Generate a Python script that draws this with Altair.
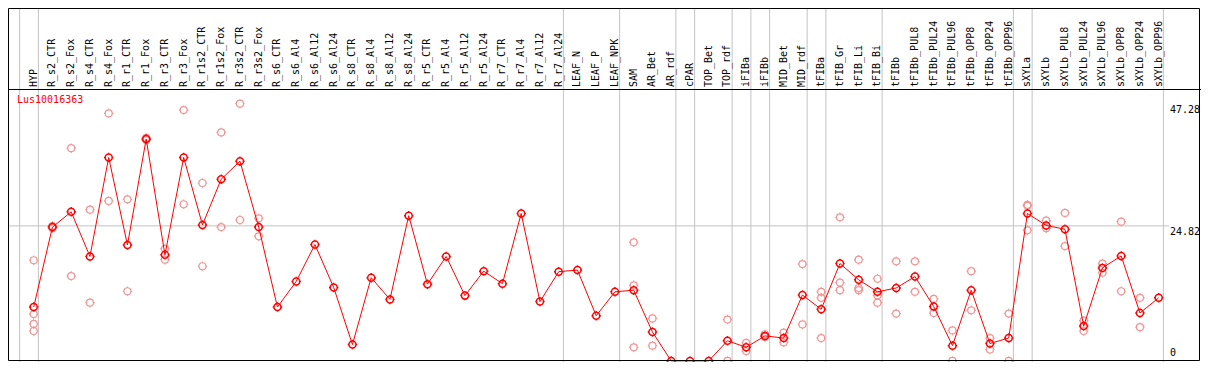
import altair as alt
import pandas as pd

gene = "Lus10016363"

categories = [
    "HYP", "R_s2_CTR", "R_s2_Fox", "R_s4_CTR", "R_s4_Fox", "R_r1_CTR", "R_r1_Fox",
    "R_r3_CTR", "R_r3_Fox", "R_r1s2_CTR", "R_r1s2_Fox", "R_r3s2_CTR", "R_r3s2_Fox",
    "R_s6_CTR", "R_s6_Al4", "R_s6_Al12", "R_s6_Al24", "R_s8_CTR", "R_s8_Al4",
    "R_s8_Al12", "R_s8_Al24", "R_r5_CTR", "R_r5_Al4", "R_r5_Al12", "R_r5_Al24",
    "R_r7_CTR", "R_r7_Al4", "R_r7_Al12", "R_r7_Al24", "LEAF_N", "LEAF_P", "LEAF_NPK",
    "SAM", "AR_Bet", "AR_rdf", "cPAR", "TOP_Bet", "TOP_rdf", "iFIBa", "iFIBb",
    "MID_Bet", "MID_rdf", "tFIBa", "tFIB_Gr", "tFIB_Li", "tFIB_Bi", "tFIBb",
    "tFIBb_PUL8", "tFIBb_PUL24", "tFIBb_PUL96", "tFIBb_OPP8", "tFIBb_OPP24",
    "tFIBb_OPP96", "sXYLa", "sXYLb", "sXYLb_PUL8", "sXYLb_PUL24", "sXYLb_PUL96",
    "sXYLb_OPP8", "sXYLb_OPP24", "sXYLb_OPP96",
]

means = [
    9.9, 24.6, 27.4, 19.2, 37.4, 21.3, 40.8, 19.5, 37.4, 25.0,
    33.4, 36.7, 24.6, 9.9, 14.6, 21.4, 13.5, 3.0, 15.3, 11.3,
    26.7, 14.1, 19.2, 12.0, 16.5, 14.2, 27.1, 10.9, 16.4, 16.7,
    8.3, 12.7, 13.0, 5.3, 0.0, 0.0, 0.0, 3.7, 2.5, 4.6,
    4.2, 12.1, 9.5, 17.9, 14.9, 12.7, 13.4, 15.5, 10.0, 2.8,
    13.0, 3.2, 4.2, 27.1, 24.9, 24.2, 6.4, 17.1, 19.3, 8.8, 11.6,
]

replicates = [
    [18.5, 8.6, 6.8, 5.5],   # HYP
    [24.8, 24.4],            # R_s2_CTR
    [39.1, 15.6],            # R_s2_Fox
    [27.8, 10.7],            # R_s4_CTR
    [45.5, 29.4],            # R_s4_Fox
    [29.7, 12.8],            # R_r1_CTR
    [41.0, 40.6],            # R_r1_Fox
    [20.6, 18.6],            # R_r3_CTR
    [46.1, 28.8],            # R_r3_Fox
    [32.7, 17.4],            # R_r1s2_CTR
    [42.0, 24.6],            # R_r1s2_Fox
    [47.28, 25.9],           # R_r3s2_CTR
    [26.2, 22.9],            # R_r3s2_Fox
    [], [], [], [], [], [], [], [], [], [], [], [], [], [], [], [],  # R_s6_CTR .. R_r7_Al24
    [], [], [],              # LEAF_N, LEAF_P, LEAF_NPK
    [21.8, 13.9, 2.5],       # SAM
    [7.8, 2.8],              # AR_Bet
    [], [], [],              # AR_rdf, cPAR, TOP_Bet
    [7.6, 0.0],              # TOP_rdf
    [3.3, 1.8],              # iFIBa
    [4.9, 4.4],              # iFIBb
    [5.2, 3.4],              # MID_Bet
    [17.8, 6.7],             # MID_rdf
    [12.7, 11.6, 4.2],       # tFIBa
    [26.4, 14.4, 13.0],      # tFIB_Gr
    [18.6, 13.4, 13.0],      # tFIB_Li
    [15.1, 12.0, 10.7],      # tFIB_Bi
    [18.3, 8.7],             # tFIBb
    [18.3, 12.7],            # tFIBb_PUL8
    [11.4, 8.8],             # tFIBb_PUL24
    [5.6, 0.0],              # tFIBb_PUL96
    [16.5, 9.3],             # tFIBb_OPP8
    [4.2, 2.1],              # tFIBb_OPP24
    [8.7, 0.0],              # tFIBb_OPP96
    [28.7, 28.5, 24.0],      # sXYLa
    [25.8, 24.4],            # sXYLb
    [27.2, 21.1],            # sXYLb_PUL8
    [7.4, 5.5],              # sXYLb_PUL24
    [17.9, 16.2],            # sXYLb_PUL96
    [25.6, 12.8],            # sXYLb_OPP8
    [11.6, 6.2],             # sXYLb_OPP24
    [],                      # sXYLb_OPP96
]

# group separators: drawn just after these category numbers (0 = before first)
group_ends = [0, 1, 29, 32, 35, 36, 38, 39, 40, 42, 43, 46, 53, 54, 61]

y_top_labels = [47.28, 24.82]
y_bottom_labels = [0]
grid_values = [24.82]

# ---------------------------------------------------------------- tables
idx = list(range(1, len(categories) + 1))
mean_df = pd.DataFrame({"idx": idx, "cat": categories, "value": means})
rep_df = pd.DataFrame(
    [{"idx": i + 1, "value": v} for i, vals in enumerate(replicates) for v in vals]
)
bound_df = pd.DataFrame({"pos": [g + 0.25 for g in group_ends]})
ytop_df = pd.DataFrame({"v": y_top_labels, "t": [f"{v:.2f}" for v in y_top_labels]})
ybot_df = pd.DataFrame({"v": y_bottom_labels, "t": ["0" for _ in y_bottom_labels]})
grid_df = pd.DataFrame({"v": grid_values})

W, H = 1193, 354
HEADER = 81
FONT = "DejaVu Sans Mono"

xs = alt.Scale(domain=[1, len(categories)], range=[25.7, 1150.7], nice=False, zero=False)
ys = alt.Scale(domain=[0, 47.28], range=[352.9, 95.7], nice=False, zero=False)

marker = ("M-1,0A1,1,0,1,0,1,0A1,1,0,1,0,-1,0"
          "M0,-1L0,-1.35M0,1L0,1.35M-1,0L-1.35,0M1,0L1.35,0")

vrules = alt.Chart(bound_df).mark_rule(color="#c3c3c3", strokeWidth=1).encode(
    x=alt.X("pos:Q", scale=xs, axis=None),
    y=alt.value(0),
    y2=alt.value(H),
)

hgrid = alt.Chart(grid_df).mark_rule(color="#c3c3c3", strokeWidth=1).encode(
    y=alt.Y("v:Q", scale=ys, axis=None),
    x=alt.value(0),
    x2=alt.value(1161),
)

reps = alt.Chart(rep_df).mark_point(
    shape=marker, size=49, filled=False, stroke="#f09494", strokeWidth=1.2, opacity=1
).encode(
    x=alt.X("idx:Q", scale=xs, axis=None),
    y=alt.Y("value:Q", scale=ys, axis=None),
)

line = alt.Chart(mean_df).mark_line(color="#ff0000", strokeWidth=1).encode(
    x=alt.X("idx:Q", scale=xs, axis=None),
    y=alt.Y("value:Q", scale=ys, axis=None),
)

pts = alt.Chart(mean_df).mark_point(
    shape=marker, size=49, filled=False, stroke="#ff0000", strokeWidth=1.5, opacity=1
).encode(
    x=alt.X("idx:Q", scale=xs, axis=None),
    y=alt.Y("value:Q", scale=ys, axis=None),
)

cat_labels = alt.Chart(mean_df).mark_text(
    angle=270, align="left", baseline="middle", font=FONT, fontSize=10, color="black"
).encode(
    x=alt.X("idx:Q", scale=xs, axis=None),
    y=alt.value(HEADER - 2),
    text="cat:N",
)

ytop = alt.Chart(ytop_df).mark_text(
    align="left", baseline="top", font=FONT, fontSize=10, color="black", dy=1
).encode(
    y=alt.Y("v:Q", scale=ys, axis=None),
    x=alt.value(1162),
    text="t:N",
)

ybot = alt.Chart(ybot_df).mark_text(
    align="left", baseline="bottom", font=FONT, fontSize=10, color="black", dy=-3
).encode(
    y=alt.Y("v:Q", scale=ys, axis=None),
    x=alt.value(1162),
    text="t:N",
)

title = alt.Chart(pd.DataFrame({"t": [gene]})).mark_text(
    align="left", baseline="middle", font=FONT, fontSize=10, color="#ff0000"
).encode(
    x=alt.value(9),
    y=alt.value(92),
    text="t:N",
)

sep = alt.Chart(pd.DataFrame({"a": [0]})).mark_rule(color="black", strokeWidth=1).encode(
    y=alt.value(HEADER + 0.5),
    x=alt.value(0),
    x2=alt.value(W),
)

frame = alt.Chart(pd.DataFrame({"a": [0]})).mark_rect(
    fillOpacity=0, stroke="black", strokeWidth=1
).encode(
    x=alt.value(0.5),
    x2=alt.value(1191.5),
    y=alt.value(0.5),
    y2=alt.value(H - 1.5),
)

chart = alt.layer(
    vrules, hgrid, reps, line, pts, cat_labels, ytop, ybot, title, sep, frame
).properties(
    width=W, height=H, autosize=alt.AutoSizeParams(type="none"), padding=0,
    background="white",
).configure_view(stroke=None)

chart.save("out.html", embed_options={"renderer": "svg", "actions": False})
